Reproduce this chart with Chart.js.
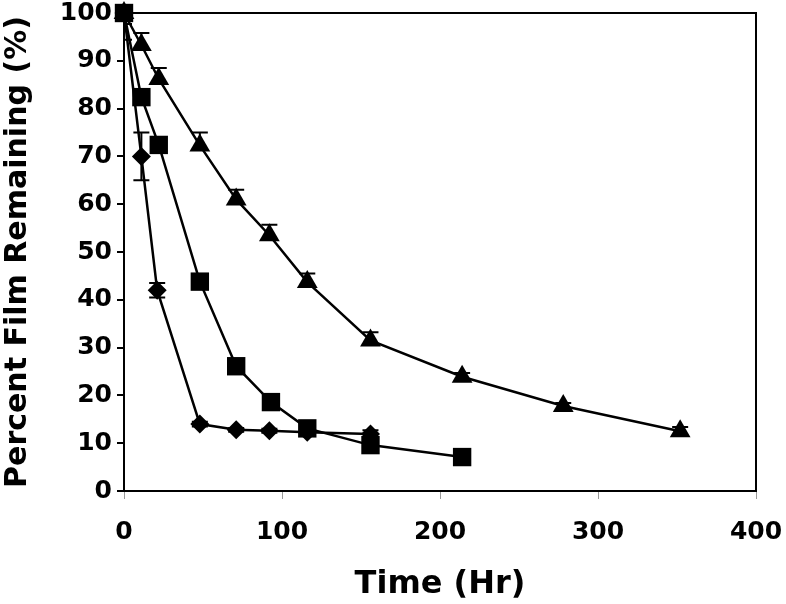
<!DOCTYPE html>
<html>
<head>
<meta charset="utf-8">
<script src="https://cdn.jsdelivr.net/npm/chart.js@4/dist/chart.umd.min.js"></script>
<style>
  html,body{margin:0;padding:0;background:#fff;}
  #wrap{width:786px;height:604px;position:relative;}
</style>
</head>
<body>
<div id="wrap"><canvas id="c" width="786" height="604"></canvas></div>
<script>
// ---- data ----
const triX   = [0, 11, 22, 48, 71, 92, 116, 156, 214, 278, 352];
const triY   = [100, 93.3, 86.2, 72.3, 61.0, 53.5, 43.7, 31.5, 23.9, 17.8, 12.5];
const triErr = [0, 2.5, 2.3, 2.7, 2.0, 2.2, 1.8, 1.7, 0.8, 0.6, 0.9];

const sqX    = [0, 11, 22, 48, 71, 93, 116, 156, 214];
const sqY    = [100, 82.4, 72.4, 43.8, 26.1, 18.6, 13.1, 9.6, 7.1];
const sqErr  = [2.3, 0, 0, 0, 0, 0, 0, 0, 0];

const diaX   = [0, 11, 21, 48, 71, 92, 116, 156];
const diaY   = [100, 70, 42, 14, 12.8, 12.6, 12.3, 11.9];
const diaErr = [5.6, 5, 1.5, 0.5, 0.4, 0.4, 0.5, 0.8];

const xTicks = [0, 100, 200, 300, 400];
const yTicks = [0, 10, 20, 30, 40, 50, 60, 70, 80, 90, 100];
const xTitle = 'Time (Hr)';
const yTitle = 'Percent Film Remaining (%)';

const FONT = "'DejaVu Sans', Verdana, sans-serif";

function pts(xs, ys){ return xs.map((x,i)=>({x:x, y:ys[i]})); }

const errorBars = {
  id: 'errorBars',
  afterDatasetsDraw(chart){
    const ctx = chart.ctx, xs = chart.scales.x, ys = chart.scales.y, a = chart.chartArea;
    ctx.save();
    ctx.beginPath(); ctx.rect(a.left, a.top-1, a.right-a.left, a.bottom-a.top+2); ctx.clip();
    ctx.strokeStyle = '#000'; ctx.lineWidth = 2;
    chart.data.datasets.forEach(ds=>{
      const err = ds.err, upOnly = ds.upOnly;
      ds.data.forEach((p,i)=>{
        const e = err[i]; if(!e) return;
        const px = xs.getPixelForValue(p.x);
        const yHi = ys.getPixelForValue(p.y + e);
        const yLo = ys.getPixelForValue(upOnly ? p.y : p.y - e);
        ctx.beginPath();
        ctx.moveTo(px, yHi); ctx.lineTo(px, yLo);
        ctx.moveTo(px-8, yHi); ctx.lineTo(px+8, yHi);
        if(!upOnly){ ctx.moveTo(px-8, yLo); ctx.lineTo(px+8, yLo); }
        ctx.stroke();
      });
    });
    ctx.restore();
  }
};

const frame = {
  id: 'frame',
  afterDraw(chart){
    const a = chart.chartArea, ctx = chart.ctx;
    ctx.save();
    ctx.strokeStyle = '#000'; ctx.lineWidth = 2;
    ctx.strokeRect(a.left, a.top, a.right-a.left, a.bottom-a.top);
    ctx.restore();
  }
};

const common = {
  borderColor:'#000', backgroundColor:'#000', pointBackgroundColor:'#000', pointBorderColor:'#000',
  borderWidth:2.5, showLine:true, tension:0, clip:false
};

new Chart(document.getElementById('c'), {
  type:'scatter',
  data:{ datasets:[
    Object.assign({}, common, {label:'A', data:pts(triX,triY), err:triErr, upOnly:true,  pointStyle:'triangle', pointRadius:12, pointBorderWidth:0}),
    Object.assign({}, common, {label:'B', data:pts(sqX,sqY),   err:sqErr,  upOnly:false, pointStyle:'rect',     pointRadius:13, pointBorderWidth:0}),
    Object.assign({}, common, {label:'C', data:pts(diaX,diaY), err:diaErr, upOnly:false, pointStyle:'rectRot',  pointRadius:9.5, pointBorderWidth:0})
  ]},
  options:{
    responsive:false, animation:false, devicePixelRatio:1,
    layout:{ padding:{left:0, right:30, top:12, bottom:0} },
    plugins:{ legend:{display:false}, tooltip:{enabled:false} },
    scales:{
      x:{ type:'linear', min:0, max:400,
          afterBuildTicks(s){ s.ticks = xTicks.map(v=>({value:v})); },
          afterFit(s){ s.height = 113; s.paddingLeft = 0; s.paddingRight = 0; },
          grid:{ display:true, drawOnChartArea:false, drawTicks:true, tickLength:8, color:'#999', lineWidth:1 },
          border:{ display:true, color:'#000', width:2 },
          ticks:{ color:'#000', padding:18, font:{family:FONT, size:25, weight:'bold'}, maxRotation:0 },
          title:{ display:true, text:xTitle, color:'#000', font:{family:FONT, size:32, weight:'bold'}, padding:{top:4, bottom:0} }
      },
      y:{ type:'linear', min:0, max:100,
          afterBuildTicks(s){ s.ticks = yTicks.map(v=>({value:v})); },
          afterFit(s){ s.width = 124; s.paddingTop = 0; s.paddingBottom = 0; },
          grid:{ display:true, drawOnChartArea:false, drawTicks:true, tickLength:7, color:'#000', lineWidth:2 },
          border:{ display:true, color:'#000', width:2 },
          ticks:{ color:'#000', padding:5, font:{family:FONT, size:25, weight:'bold'} },
          title:{ display:true, text:yTitle, color:'#000', font:{family:FONT, size:30, weight:'bold'}, padding:{top:0, bottom:4} }
      }
    }
  },
  plugins:[errorBars, frame]
});
</script>
</body>
</html>
